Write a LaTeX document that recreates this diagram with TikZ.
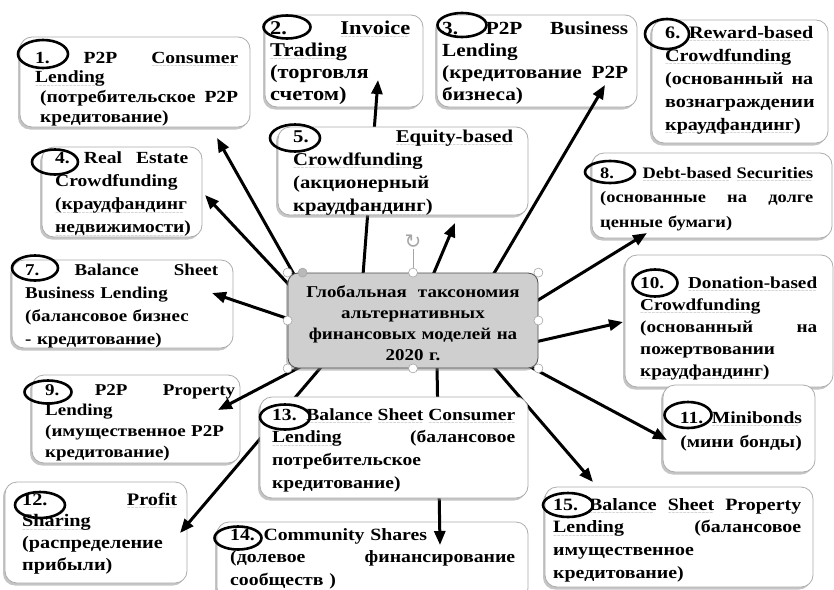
\documentclass[tikz,border=0pt]{standalone}
\usepackage{fontspec}
\setmainfont{Liberation Serif}[FakeStretch=1.15]
\newfontfamily\symfont{DejaVu Sans}
\usetikzlibrary{arrows.meta,shapes.geometric,shadows,calc}
\newcommand{\sq}[1]{\setbox0\hbox{#1}\leavevmode\rlap{\raisebox{-4.5pt}{\textcolor{gray!60}{\hbox to \wd0{\leaders\hbox{\symfont\fontsize{4.5}{5}\selectfont\char"223C}\hfill}}}}\box0}
\newcommand{\J}[1]{\leavevmode\hbox to \linewidth{#1}}
\newcommand{\fs}[2]{\fontsize{#1}{#2}\selectfont\bfseries}
\begin{document}
\begin{tikzpicture}[x=1pt,y=-1pt,
  box/.style={draw=gray!65, line width=0.8pt, fill=white, rounded corners=12pt,
    drop shadow={shadow xshift=-2pt, shadow yshift=-2.5pt, opacity=0.45, fill=gray},
    inner sep=0pt},
  cbox/.style={draw=gray!60!black, line width=0.8pt, fill=gray!38, rounded corners=10pt,
    drop shadow={shadow xshift=-2pt, shadow yshift=-2.5pt, opacity=0.45, fill=gray},
    inner sep=0pt},
  txt/.style={anchor=base west, inner sep=0pt, align=left},
  ctxt/.style={anchor=base, inner sep=0pt, align=center},
  num/.style={draw=black, line width=2.6pt, ellipse, inner sep=0pt},
  arr/.style={line width=3pt, line cap=round, -{Triangle[length=14pt,width=11pt]}},
  handle/.style={circle, draw=gray!70, fill=white, line width=0.6pt, minimum size=9pt, inner sep=0pt},
]
\clip (0,0) rectangle (834,589);
\fill[white] (0,0) rectangle (834,589);

% ---------- boxes under the arrows
\node[box, minimum width=230pt, minimum height=90pt] (b1) at (135,82) {};
\node[txt, text width=203pt, font=\fs{17}{19.7}] (t1) at (35,63)
 {\J{1.\hfill P2P\hfill \sq{Consumer}}\\ \mbox{\sq{Lending}}\\ \J{\hspace*{5pt}(потребительское\hfill P2P}\\ \hspace*{5pt}кредитование)};

\node[box, minimum width=158pt, minimum height=92pt] (b2) at (344,61) {};
\node[txt, text width=140pt, font=\fs{19.5}{22.3}] (t2) at (270,34)
 {\J{2.\hfill \sq{Invoice}}\\ \sq{Trading}\\ (торговля\\ счетом)};

\node[box, minimum width=200pt, minimum height=92pt] (b3) at (537,61) {};
\node[txt, text width=186pt, font=\fs{18.5}{22.3}] (t3) at (442,34)
 {\J{3.\hfill P2P\hfill Business}\\ Lending\\ \J{(кредитование\hfill P2P}\\ бизнеса)};

\node[box, minimum width=176pt, minimum height=123pt] (b6) at (740,81.5) {};
\node[txt, text width=148pt, font=\fs{17.5}{23}] (t6) at (665,38)
 {\J{6.\hfill \sq{Reward-based}}\\ \sq{Crowdfunding}\\ \J{(основанный\hfill на}\\ вознаграждении\\ \sq{краудфандинг)}};

\node[box, minimum width=160pt, minimum height=90pt] (b4) at (122,192) {};
\node[txt, text width=133pt, font=\fs{17}{23.3}] (t4) at (55,163)
 {\J{4.\hfill Real\hfill Estate}\\ Crowdfunding\\ \sq{(краудфандинг}\\ \sq{недвижимости)}};

\node[box, minimum width=240pt, minimum height=85pt] (b8) at (712,195.5) {};
\node[txt, text width=213pt, font=\fs{16}{24.5}] (t8) at (600,178)
 {\J{8.\hfill \sq{Debt-based}\hspace{5pt}\sq{Securities}}\\ \J{(основанные\hfill на\hfill долге}\\ \mbox{ценные бумаги)}};

\node[box, minimum width=221pt, minimum height=88pt] (b7) at (122.5,304) {};
\node[txt, text width=193pt, font=\fs{16.5}{23.3}] (t7) at (25,275)
 {\J{7.\hfill Balance\hfill Sheet}\\ \mbox{Business Lending}\\ \mbox{(балансовое бизнес}\\ \mbox{- кредитование)}};

\node[box, minimum width=208pt, minimum height=132pt] (b10) at (729,321) {};
\node[txt, text width=177pt, font=\fs{16.7}{22}] (t10) at (640,288)
 {\J{10.\hfill \sq{Donation-based}}\\ \sq{Crowdfunding}\\ \J{(основанный\hfill на}\\ пожертвовании\\ \sq{краудфандинг)}};

\node[box, minimum width=208pt, minimum height=88pt] (b9) at (136,419) {};
\node[txt, text width=190pt, font=\fs{16.5}{20.7}] (t9) at (45,395)
 {\J{9.\hfill P2P\hfill Property}\\ Lending\\ \mbox{(имущественное P2P}\\ кредитование)};

\node[box, minimum width=182pt, minimum height=101pt] (b12) at (96,532.5) {};
\node[txt, text width=155pt, font=\fs{17.6}{21.7}] (t12) at (22,505)
 {\J{12.\hfill \sq{Profit}}\\ \sq{Sharing}\\ (распределение\\ прибыли)};

\node[box, minimum width=152pt, minimum height=87pt] (b11) at (739,428.5) {};
\node[ctxt, text width=140pt, font=\fs{17}{24}] (t11) at (741,423)
 {\mbox{11. \sq{Minibonds}}\\ \mbox{(мини бонды)}};

\node[box, minimum width=311pt, minimum height=78pt] (b14) at (372.5,561) {};
\node[txt, text width=285pt, font=\fs{17.2}{22.5}] (t14) at (230,540)
 {\mbox{14. Community Shares}\\ \J{(долевое\hfill финансирование}\\ \mbox{сообществ )}};

\node[box, minimum width=268pt, minimum height=100pt] (b15) at (679,537) {};
\node[txt, text width=248pt, font=\fs{17.3}{22.7}] (t15) at (553,510)
 {\J{15.\hfill \sq{Balance}\hfill \sq{Sheet}\hfill Property}\\ \J{\sq{Lending}\hfill (балансовое}\\ имущественное\\ кредитование)};

% ---------- arrow end points
\coordinate (s1) at (296,278);  \coordinate (a1) at (217,138);
\coordinate (s4) at (292,288);  \coordinate (a4) at (205,195);
\coordinate (s7) at (292,320);  \coordinate (a7) at (212,293);
\coordinate (s9) at (302,366);  \coordinate (a9) at (218,410);
\coordinate (s12) at (322,366); \coordinate (a12) at (180,533);
\coordinate (s2) at (363,275);  \coordinate (a2) at (378,80);
\coordinate (s5) at (433,275);  \coordinate (a5) at (455,223);
\coordinate (s3) at (493,275);  \coordinate (a3) at (605,85);
\coordinate (s8) at (535,302);  \coordinate (a8) at (647,233);
\coordinate (s10) at (535,342); \coordinate (a10) at (623,322);
\coordinate (s11) at (525,364); \coordinate (a11) at (667,440);
\coordinate (s15) at (493,366); \coordinate (a15) at (593,482);
\coordinate (s14) at (437,366); \coordinate (a14) at (440,545);

\foreach \k in {1,4,7,9,12,2,5,3,8,10,11,15,14}
  \draw[arr] (s\k) -- (a\k);

% ---------- boxes over the arrows
\node[box, minimum width=250pt, minimum height=88pt] (b5) at (403,171) {};
\node[txt, text width=220pt, font=\fs{18}{23.3}] (t5) at (293,142)
 {\J{5.\hfill \sq{Equity-based}}\\ \sq{Crowdfunding}\\ (акционерный\\ \sq{краудфандинг)}};

\node[box, minimum width=268pt, minimum height=101pt] (b13) at (394,447.5) {};
\node[txt, text width=243pt, font=\fs{17}{22.7}] (t13) at (272,420)
 {\J{13.\hfill \sq{Balance}\hspace{5pt}\sq{Sheet}\hspace{5pt}\sq{Consumer}}\\ \J{\sq{Lending}\hfill (балансовое}\\ потребительское\\ кредитование)};

\node[cbox, minimum width=250pt, minimum height=95pt] (c) at (413,320.5) {};
\node[ctxt, text width=240pt, font=\fs{16.5}{21}] (ct) at (413,297)
 {\mbox{Глобальная\ \ таксономия}\\ альтернативных\\ \mbox{финансовых моделей на}\\ \mbox{2020 г.}};

% ---------- number ellipses
\node[num, minimum width=50pt, minimum height=28pt] (e1) at (43,54) {};
\node[num, minimum width=47pt, minimum height=23pt] (e2) at (287,27) {};
\node[num, minimum width=49pt, minimum height=24pt] (e3) at (462,25) {};
\node[num, minimum width=44pt, minimum height=30pt] (e6) at (667,34) {};
\node[num, minimum width=46pt, minimum height=25pt] (e4) at (55,162) {};
\node[num, minimum width=50pt, minimum height=27pt] (e5) at (295,138) {};
\node[num, minimum width=50pt, minimum height=22pt] (e8) at (610,172) {};
\node[num, minimum width=46pt, minimum height=25pt] (e7) at (35,268) {};
\node[num, minimum width=45pt, minimum height=27pt] (e10) at (655,283) {};
\node[num, minimum width=47pt, minimum height=23pt] (e9) at (48,392) {};
\node[num, minimum width=50pt, minimum height=26pt] (e12) at (40,505) {};
\node[num, minimum width=50pt, minimum height=25pt] (e13) at (285,417) {};
\node[num, minimum width=47pt, minimum height=23pt] (e14) at (238,538) {};
\node[num, minimum width=47pt, minimum height=26pt] (e11) at (688,415) {};
\node[num, minimum width=50pt, minimum height=24pt] (e15) at (568,505) {};

% ---------- selection handles of the centre box
\node[inner sep=0pt, text=gray!70, font=\symfont\fontsize{20}{20}\selectfont] (rot) at (413,242) {↻};
\node[handle] (hn) at (c.north) {};
\draw[gray!70, line width=0.6pt] (rot.south) -- (hn.north);
\node[handle] (hnw) at (c.north west) {};
\node[handle] (hne) at (c.north east) {};
\node[handle] (hsw) at (c.south west) {};
\node[handle] (hse) at (c.south east) {};
\node[handle] (hs) at (c.south) {};
\node[handle] (hw) at (c.west) {};
\node[handle] (he) at (c.east) {};
\node[handle, fill=gray!55] (hadj) at ($(c.north west)+(15,0)$) {};
\end{tikzpicture}
\end{document}
